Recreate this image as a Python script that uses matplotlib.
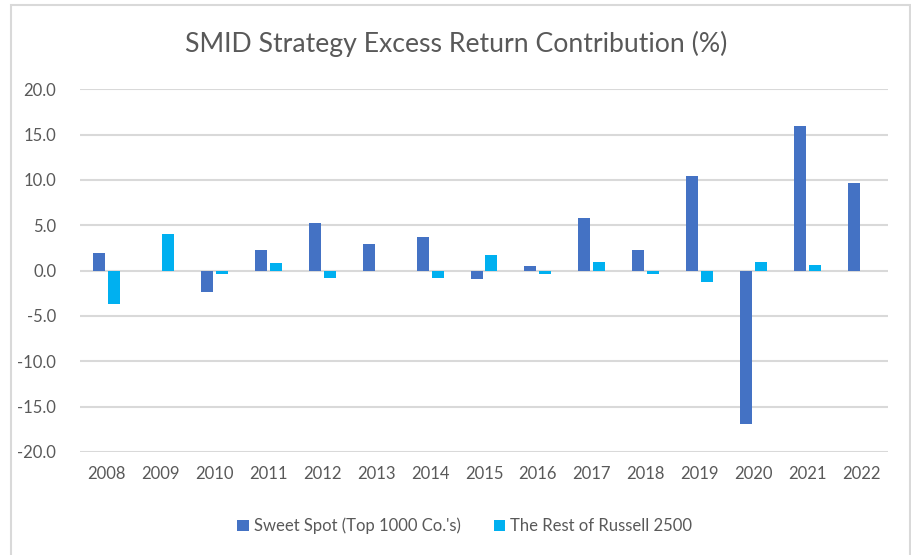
import numpy as np
import matplotlib
matplotlib.use("Agg")
import matplotlib.pyplot as plt
from matplotlib.patches import Rectangle

# Data
years = ["2008", "2009", "2010", "2011", "2012", "2013", "2014", "2015",
         "2016", "2017", "2018", "2019", "2020", "2021", "2022"]
sweet_spot = [2.0, 0.0, -2.3, 2.3, 5.3, 2.9, 3.7, -0.9,
              0.5, 5.8, 2.3, 10.4, -16.9, 15.9, 9.7]
rest_r2500 = [-3.7, 4.0, -0.4, 0.85, -0.8, 0.0, -0.8, 1.7,
              -0.4, 1.0, -0.4, -1.2, 1.0, 0.6, 0.0]
yticks = [-20, -15, -10, -5, 0, 5, 10, 15, 20]

DARK = "#4472C4"
LIGHT = "#00B0F0"
GRID = "#D9D9D9"
TXT = "#595959"

plt.rcParams['font.family'] = ['Lato', 'DejaVu Sans']

fig = plt.figure(figsize=(9.12, 5.55), dpi=100)
ax = fig.add_axes([0.0877, 0.1856, 0.886, 0.6535])

# chart frame
fig.patches.append(Rectangle((11 / 912, -0.05), 899 / 912, 1.05 - 5 / 555,
                             transform=fig.transFigure, fill=False,
                             edgecolor=GRID, linewidth=1.5))

x = np.arange(len(years))
w = 0.223
off = 0.139
ax.bar(x - off, sweet_spot, w, color=DARK, label="Sweet Spot (Top 1000 Co.'s)", zorder=3)
ax.bar(x + off, rest_r2500, w, color=LIGHT, label="The Rest of Russell 2500", zorder=3)

ax.set_xlim(-0.5, len(years) - 0.5)
ax.set_ylim(-20, 20)
ax.set_yticks(yticks)
ax.set_yticklabels([f"{v:.1f}" for v in yticks])
ax.set_xticks(x)
ax.set_xticklabels(years)
ax.tick_params(length=0, labelsize=12, colors=TXT)
ax.tick_params(axis='y', pad=17)
ax.tick_params(axis='x', pad=10)
ax.grid(axis='y', color=GRID, linewidth=1.5, zorder=0)
for s in ax.spines.values():
    s.set_visible(False)

fig.text(0.5, 0.92, "SMID Strategy Excess Return Contribution (%)",
         ha='center', va='center', fontsize=19.2, color=TXT)

ax.legend(loc='upper center', bbox_to_anchor=(0.476, -0.14), ncol=2, frameon=False,
          fontsize=12, labelcolor=TXT, handlelength=0.7, handleheight=0.7,
          handletextpad=0.3, columnspacing=2.0)

fig.savefig("out.png", dpi=100)
